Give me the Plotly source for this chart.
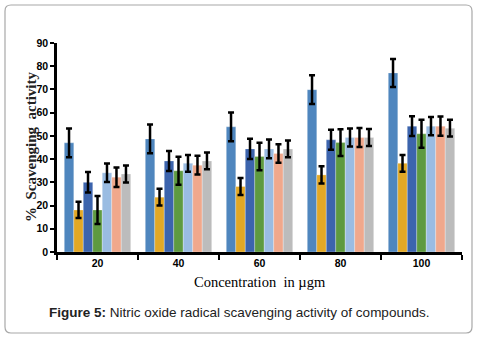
import plotly.graph_objects as go

categories = ["20", "40", "60", "80", "100"]
series_names = ["S1", "S2", "S3", "S4", "S5", "S6", "S7"]
s1 = [47.0, 48.7, 53.9, 69.9, 77.1]
s2 = [18.1, 23.6, 28.2, 33.2, 38.2]
s3 = [30.0, 39.2, 44.4, 48.3, 54.2]
s4 = [18.1, 35.0, 41.1, 47.1, 50.9]
s5 = [34.1, 38.2, 44.4, 49.3, 54.2]
s6 = [32.2, 37.4, 42.4, 49.3, 54.2]
s7 = [33.6, 39.2, 44.4, 49.3, 53.3]
e1 = [6.2, 6.2, 6.2, 6.2, 6.0]
e2 = [3.5, 3.6, 3.7, 3.7, 3.6]
e3 = [4.4, 4.3, 4.4, 4.3, 4.3]
e4 = [6.0, 6.0, 5.9, 5.8, 6.0]
e5 = [4.0, 3.6, 4.0, 3.9, 3.9]
e6 = [4.2, 4.0, 4.0, 4.1, 4.1]
e7 = [3.7, 3.6, 3.6, 3.7, 3.6]
values = [s1, s2, s3, s4, s5, s6, s7]
errors = [e1, e2, e3, e4, e5, e6, e7]
colors = ["#4F86BE", "#E2A826", "#3C64AD", "#5E9A40", "#9ABCE2", "#F0A88C", "#BCBCBC"]
y_ticks = [0, 10, 20, 30, 40, 50, 60, 70, 80, 90]

fig = go.Figure()
for name, v, e, c in zip(series_names, values, errors, colors):
    fig.add_trace(go.Bar(
        x=categories, y=v, name=name,
        marker=dict(color=c, line=dict(color="rgba(255,255,255,0.45)", width=0.6)),
        error_y=dict(type="data", array=e, color="black", thickness=2.5, width=3),
    ))

W, H = 479, 341
L, R, T, B = 57, 17, 43, 89
pw, ph = W - L - R, H - T - B

def px(x):
    return (x - L) / pw

def py(y):
    return (H - B - y) / ph

# rounded frame
x0, x1, y0, y1, r = 5, 472, 5, 333, 6
path = (f"M {px(x0+r)},{py(y0)} L {px(x1-r)},{py(y0)} Q {px(x1)},{py(y0)} {px(x1)},{py(y0+r)} "
        f"L {px(x1)},{py(y1-r)} Q {px(x1)},{py(y1)} {px(x1-r)},{py(y1)} "
        f"L {px(x0+r)},{py(y1)} Q {px(x0)},{py(y1)} {px(x0)},{py(y1-r)} "
        f"L {px(x0)},{py(y0+r)} Q {px(x0)},{py(y0)} {px(x0+r)},{py(y0)} Z")

fig.update_layout(
    width=W, height=H,
    margin=dict(l=L, r=R, t=T, b=B),
    barmode="group", bargap=0.18, bargroupgap=0,
    showlegend=False,
    paper_bgcolor="white", plot_bgcolor="white",
    font=dict(family="Liberation Sans, Arial", color="black"),
    shapes=[dict(type="path", path=path, xref="paper", yref="paper",
                 line=dict(color="#A8A8A8", width=1.2), layer="below")],
    annotations=[
        dict(text="<b>Figure 5:</b> Nitric oxide radical scavenging activity of compounds.",
             xref="paper", yref="paper", x=px(238.5), y=py(312), showarrow=False,
             xanchor="center", yanchor="middle",
             font=dict(family="Liberation Sans, Arial", size=13.5, color="#222222")),
        dict(text="Concentration  in µgm", xref="paper", yref="paper",
             x=px(260), y=py(282), showarrow=False, xanchor="center", yanchor="middle",
             font=dict(family="Liberation Serif, Times New Roman", size=14.5, color="black")),
        dict(text="<b>%  Scavenging  activity</b>", xref="paper", yref="paper",
             x=px(31), y=py(147), showarrow=False, textangle=-90,
             xanchor="center", yanchor="middle",
             font=dict(family="Liberation Serif, Times New Roman", size=15, color="#222222")),
    ],
)
fig.update_yaxes(range=[0, 90], tickvals=y_ticks, showgrid=False, zeroline=False,
                 showline=True, linecolor="black", linewidth=2.5,
                 ticks="outside", ticklen=4, tickwidth=2, tickcolor="black",
                 tickfont=dict(family="Liberation Sans, Arial", size=10.5, color="black", weight="bold"))
fig.update_xaxes(showgrid=False, showline=True, linecolor="black", linewidth=2.5,
                 ticks="outside", tickson="boundaries", ticklen=5, tickwidth=2, tickcolor="black",
                 tickfont=dict(family="Liberation Sans, Arial", size=10.5, color="black", weight="bold"))

fig.write_html("out.html", config={"displayModeBar": False},
               post_script="document.body.style.margin='0';document.body.style.padding='0';document.body.style.overflow='hidden';")
